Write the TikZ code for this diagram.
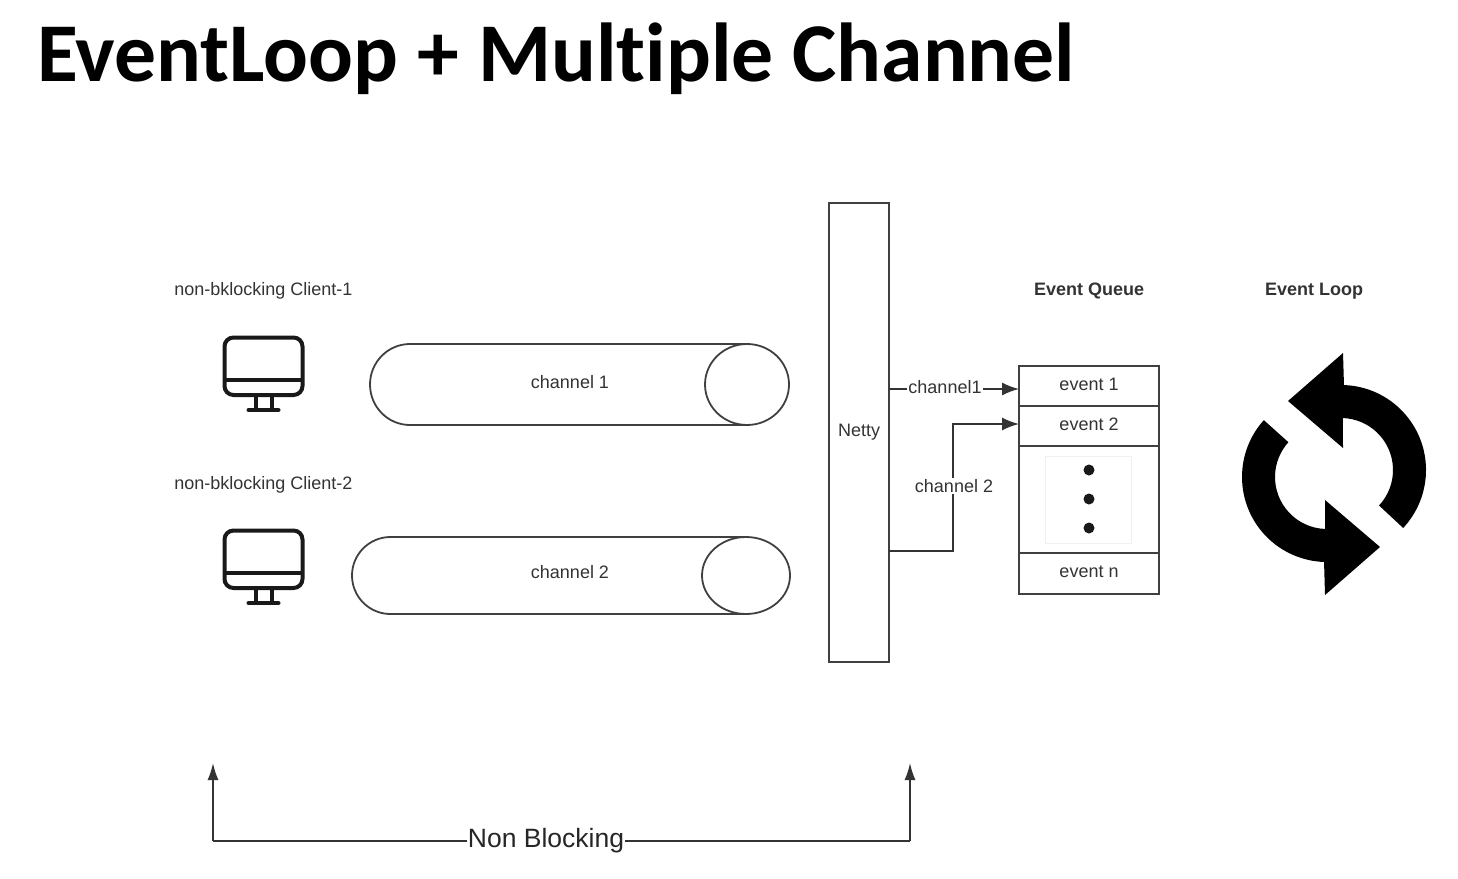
\documentclass[tikz,border=0pt]{standalone}
\usepackage{fontspec}
\setmainfont{Liberation Sans}
\newfontfamily\titlefont[Ligatures=NoCommon]{Carlito}
\usetikzlibrary{arrows.meta,shapes.geometric,positioning,calc}

\tikzset{
  lbl/.style={inner sep=1pt,text=black!80,font=\fontsize{18}{20}\selectfont},
  lblb/.style={lbl,font=\fontsize{18}{20}\selectfont\bfseries},
  tube/.style={draw=black!75,line width=1.8pt},
  tubeend/.style={ellipse,tube,inner sep=0pt,outer sep=0pt},
  box/.style={draw=black!75,line width=1.8pt,rectangle,inner sep=0pt,outer sep=0pt,minimum width=140pt,text=black!80,font=\fontsize{18}{20}\selectfont},
  evbox/.style={box,text depth=3pt},
  wire/.style={draw=black!80,line width=1.6pt},
  tip/.style={-{Latex[length=17pt,width=13pt]}},
  monitor/.pic={
    \draw[line width=4pt,rounded corners=9pt,black!90] (-39,-29.5) rectangle (39,28);
    \draw[line width=4pt,black!90] (-39,13) -- (39,13);
    \draw[line width=4pt,black!90] (-8,28) -- (-8,43) (8,28) -- (8,43);
    \draw[line width=4pt,black!90,line cap=round] (-15,43) -- (15,43);
  }
}

\begin{document}
\begin{tikzpicture}[x=1pt,y=-1pt]
\useasboundingbox (0,0) rectangle (1458,878);

\node[anchor=base west,inner sep=0pt,font=\fontsize{83.6}{88}\selectfont\titlefont\bfseries] (title) at (37,81.5) {EventLoop + Multiple Channel};

% clients
\node[lbl] (client1) at (263.5,291) {non-bklocking Client-1};
\node[lbl] (client2) at (263.5,485) {non-bklocking Client-2};
\pic at (263.5,367) {monitor};
\pic at (263.5,560) {monitor};

% channels
\node[tubeend,minimum width=84pt,minimum height=81pt] (tube1) at (747,384.5) {};
\node[tubeend,minimum width=88pt,minimum height=77pt] (tube2) at (746,575.5) {};
\draw[tube] (tube1.north) -- (410,344) arc[start angle=90,end angle=270,x radius=40pt,y radius=40.5pt] -- (tube1.south);
\draw[tube] (tube2.north) -- (390.5,537) arc[start angle=90,end angle=270,x radius=38.5pt,y radius=38.5pt] -- (tube2.south);
\node[lbl] (chan1) at (570,382) {channel 1};
\node[lbl] (chan2) at (570,572) {channel 2};

% netty
\node[box,minimum width=60pt,minimum height=459pt] (netty) at (859,432.5) {Netty};

% queue
\node[lblb] (queue) at (1089,291) {Event Queue};
\node[evbox,minimum height=40pt] (ev1) at (1089,386) {event 1};
\node[evbox,minimum height=40pt] (ev2) at (1089,426) {event 2};
\node[box,minimum height=107pt] (evdots) at (1089,499.5) {};
\node[evbox,minimum height=41pt] (evn) at (1089,573.5) {event n};
\node[draw=black!6,line width=.6pt,minimum width=86pt,minimum height=87pt,inner sep=0pt] (dotsbox) at (1088,499.5) {};
\foreach \y/\n in {470/a,499/b,528/c}
  \node[circle,fill=black!90,minimum size=11pt,inner sep=0pt] (dot\n) at (1089,\y) {};

% netty to queue
\coordinate (out1) at (netty.east |- 0,389);
\coordinate (out2) at (netty.east |- 0,551);
\coordinate (in1) at (ev1.west |- 0,389);
\coordinate (in2) at (ev2.west |- 0,424);
\coordinate (bend) at (953,424);
\draw[wire,tip] (out1) -- (in1);
\draw[wire,tip] (out2) -| (bend) -- (in2);
\node[lbl,fill=white] (lab1) at (945,387) {channel1};
\node[lbl,fill=white] (lab2) at (954,486) {channel 2};

% event loop
\node[lblb] (loop) at (1314,291) {Event Loop};
\begin{scope}[shift={(1341,470)},x=1pt,y=1pt]
\fill[black] (88:85) arc[start angle=88,end angle=-43,radius=85] -- (-43:52)
  arc[start angle=-43,end angle=88,radius=52] -- (2,22) -- (-53,69) -- (2,117) -- cycle;
\end{scope}
\begin{scope}[shift={(1327,477)},x=1pt,y=1pt]
\fill[black] (138:85) arc[start angle=138,end angle=268,radius=85] -- (-2,-118) -- (53,-70) -- (-2,-23) -- (268:52)
  arc[start angle=268,end angle=138,radius=52] -- cycle;
\end{scope}

% non blocking span
\coordinate (spanL) at (213,763);
\coordinate (spanR) at (910,763);
\coordinate (spanLb) at (213,841);
\coordinate (spanRb) at (910,841);
\draw[wire,-{Latex[length=17pt,width=11pt]}] (spanLb) -- (spanL);
\draw[wire,-{Latex[length=17pt,width=11pt]}] (spanRb) -- (spanR);
\draw[wire] (spanLb) -- (spanRb);
\node[fill=white,inner sep=1pt,text=black!85,font=\fontsize{26.5}{30}\selectfont] (nonblock) at (546,841) {Non Blocking};
\end{tikzpicture}
\end{document}
